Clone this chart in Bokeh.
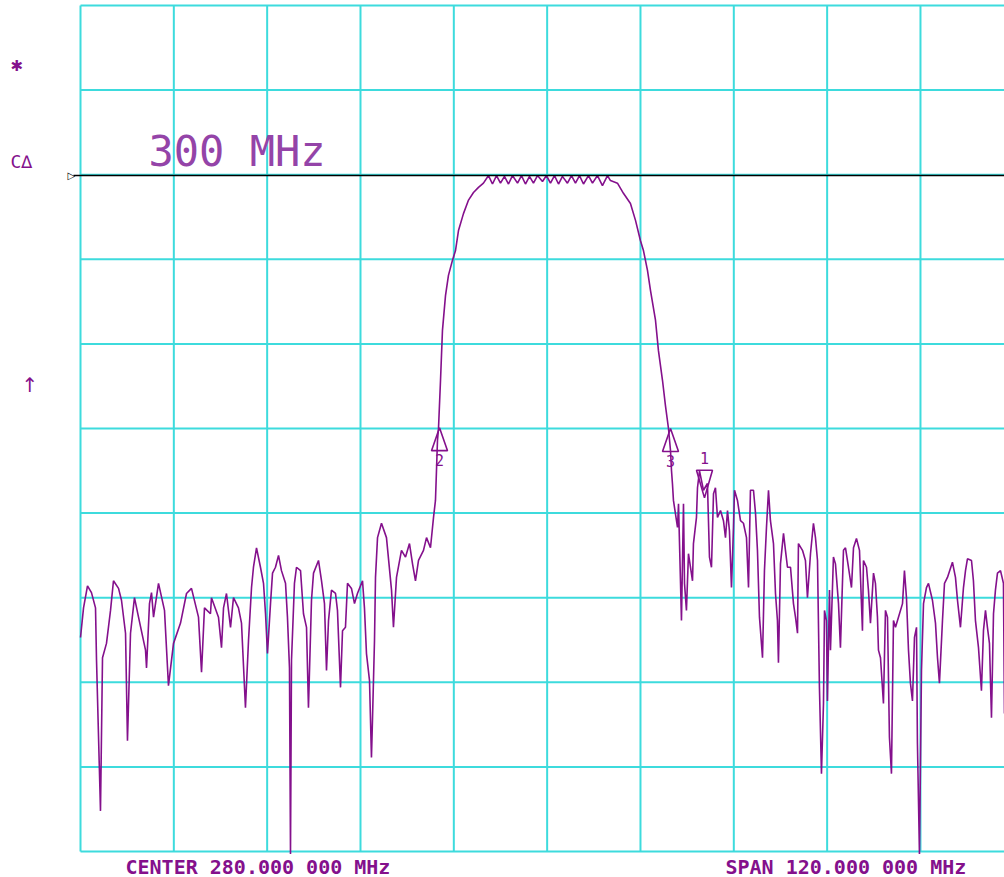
from bokeh.plotting import figure
from bokeh.models import Range1d, ColumnDataSource, Label
from bokeh.embed import file_html
from bokeh.resources import INLINE
from bokeh.core.properties import value

# ---------------- data ----------------
center_mhz = 280.0
span_mhz = 120.0
ref_level_db = -20.1
top_db = 0.0
bottom_db = -100.0
db_per_div = 10.0
marker_note = "300 MHz"

trace_freq_mhz = [
    220.00, 220.39, 220.90, 221.41, 221.93, 222.06, 222.57, 222.83, 223.34, 223.86,
    224.24, 224.89, 225.27, 225.79, 226.04, 226.43, 226.94, 227.46, 228.36, 228.49,
    228.87, 229.13, 229.39, 230.03, 230.80, 231.31, 231.96, 232.86, 233.63, 234.27,
    235.17, 235.56, 235.94, 236.71, 236.84, 237.74, 238.13, 238.39, 238.77, 239.29,
    239.67, 240.31, 240.70,
    241.21, 241.60, 241.99, 242.24, 242.63, 243.14, 243.53, 243.79, 244.04, 244.43,
    244.69, 245.07, 245.46, 245.84, 246.36, 246.61, 246.87, 247.00, 247.13, 247.51,
    247.77, 248.29, 248.67, 249.06, 249.31, 249.70, 249.96, 250.60, 250.99, 251.37,
    251.63, 251.89, 252.27, 252.79, 253.04, 253.43, 253.69, 254.07, 254.33, 254.84,
    255.23, 255.61, 256.26, 256.51, 256.77, 257.16, 257.41, 257.54, 257.80, 257.93,
    258.19, 258.70, 259.34, 259.99, 260.24, 260.63, 261.27, 261.79, 262.30, 262.69,
    263.07, 263.46, 264.10, 264.49, 265.00, 265.39, 265.64,
    265.77, 265.90, 266.03, 266.29, 266.54, 266.93, 267.31, 267.83, 268.21, 268.60,
    269.24, 269.89, 270.53, 271.17, 271.81,
    272.46, 272.97, 273.49, 274.00, 274.51, 275.03, 275.54, 276.19, 276.70, 277.21,
    277.73, 278.24, 278.76, 279.40, 279.91, 280.43, 280.94, 281.46, 281.97, 282.61,
    283.13, 283.64, 284.16, 284.67, 285.31, 285.83, 286.47, 287.11, 287.76,
    288.14, 289.04, 289.81, 290.71, 291.36, 292.00, 292.39, 292.90, 293.29, 293.93,
    294.31, 294.83, 295.21, 295.60, 295.86, 295.99,
    296.11, 296.24, 296.76, 296.89, 297.27, 297.53, 297.66, 297.91, 298.17, 298.69,
    298.81, 299.20, 299.33, 299.59, 300.10, 300.61, 300.87, 301.13, 301.39, 301.64,
    301.90, 302.29, 302.67, 302.93, 303.19, 303.44, 303.70, 303.96, 304.09, 304.47,
    304.86, 305.24, 305.63, 305.89, 306.14, 306.53, 306.79, 307.04, 307.30, 307.69,
    307.94, 308.20, 308.46, 308.71, 309.10, 309.36, 309.61, 309.74, 310.00, 310.39,
    310.64, 310.90, 311.29, 311.67, 311.93, 312.19, 312.31, 312.83, 313.21, 313.47,
    313.86, 314.24, 314.50, 314.76, 315.01, 315.27, 315.53, 315.66, 315.91, 316.04,
    316.30, 316.43, 316.81,
    317.07, 317.46, 317.71, 318.10, 318.36, 318.74, 319.13, 319.39, 319.77, 320.16,
    320.54, 320.67, 321.06, 321.31, 321.57, 321.96, 322.21, 322.47, 322.60, 322.86,
    323.24, 323.50, 323.76, 324.01, 324.27, 324.53, 324.79, 325.17, 325.69, 325.94,
    326.20, 326.46, 326.71, 326.97, 327.23, 327.49, 327.61, 327.87, 328.13, 328.39,
    328.77, 329.03, 329.54, 329.93, 330.19, 330.44, 330.83, 331.09, 331.47, 332.11,
    332.50, 332.76, 333.14, 333.53, 333.79, 334.04, 334.56, 334.81, 335.07, 335.46,
    335.84, 336.10, 336.36, 336.61, 336.87, 337.13, 337.39, 337.64, 337.90, 338.29,
    338.67, 338.80, 339.31, 340.00,
]

trace_level_db = [
    -74.7, -71.2, -68.6, -69.4, -71.2, -77.4, -95.2, -77.1, -75.4, -71.5,
    -68.0, -68.9, -70.3, -74.2, -86.9, -74.2, -70.0, -72.3, -76.2, -78.3,
    -70.7, -69.4, -72.3, -68.3, -71.5, -80.4, -75.4, -73.0, -69.5, -68.9,
    -72.3, -78.8, -71.2, -71.9, -70.0, -72.3, -75.9, -71.2, -69.5, -73.5,
    -70.0, -71.2, -73.0,
    -83.0, -75.1, -68.8, -66.4, -64.1, -66.4, -68.3, -71.9, -76.6, -70.7,
    -67.1, -66.4, -65.0, -66.8, -68.3, -72.3, -78.3, -100.3, -77.4, -68.3,
    -66.4, -66.8, -71.9, -73.5, -83.0, -70.3, -67.1, -65.6, -68.0, -70.7,
    -78.6, -72.7, -69.1, -69.5, -71.5, -80.6, -73.9, -73.5, -68.3, -68.9,
    -70.7, -69.5, -68.0, -71.2, -76.6, -79.8, -88.9, -84.5, -75.1, -67.6,
    -62.9, -61.2, -62.9, -69.1, -73.5, -67.6, -64.4, -65.2, -63.6, -66.0,
    -68.0, -65.6, -64.4, -62.9, -64.1, -60.5, -58.5,
    -55.0, -51.4, -50.0, -44.3, -38.4, -34.3, -31.9, -30.1, -29.0, -26.6,
    -24.6, -23.0, -22.1, -21.5, -21.0,
    -20.1, -21.1, -20.1, -21.0, -20.2, -21.1, -20.1, -21.0, -20.1, -21.1,
    -20.2, -21.0, -20.1, -20.8, -20.1, -21.0, -20.1, -21.1, -20.2, -21.0,
    -20.1, -21.0, -20.1, -21.1, -20.1, -21.0, -20.1, -21.3, -20.1,
    -20.7, -21.0, -22.2, -23.4, -25.4, -27.8, -29.0, -31.3, -33.7, -37.2,
    -40.8, -44.3, -47.3, -50.0, -52.6, -55.0,
    -56.5, -58.5, -61.7, -58.9, -72.7, -58.9, -68.3, -71.5, -64.8, -68.0,
    -63.6, -60.5, -57.0, -55.0, -57.3, -56.5, -65.2, -66.4, -57.7, -57.0,
    -60.5, -59.7, -60.9, -62.9, -59.7, -62.1, -68.8, -61.7, -57.3, -58.5,
    -60.9, -61.2, -62.9, -68.8, -57.3, -57.3, -60.0, -64.4, -72.3, -77.1,
    -66.8, -61.7, -57.3, -60.9, -63.6, -69.5, -72.7, -77.7, -66.0, -62.4,
    -64.4, -66.4, -66.4, -70.7, -72.3, -74.2, -63.6, -64.4, -65.6, -70.0,
    -64.8, -61.2, -62.9, -65.6, -80.6, -90.8, -82.5, -71.5, -72.7, -82.2,
    -69.1, -76.2, -65.2,
    -66.0, -70.7, -75.9, -64.4, -64.1, -66.4, -68.8, -64.1, -63.0, -64.4,
    -73.9, -65.6, -66.4, -69.1, -73.0, -67.1, -68.3, -72.3, -76.2, -77.1,
    -82.5, -71.5, -72.3, -86.5, -90.8, -72.7, -73.5, -72.3, -70.7, -66.8,
    -70.0, -76.2, -80.1, -82.2, -74.7, -73.5, -87.2, -100.3, -78.6, -70.7,
    -68.8, -68.3, -70.3, -73.0, -77.1, -80.1, -72.7, -68.3, -67.6, -65.8,
    -67.6, -70.3, -73.5, -68.8, -66.8, -65.4, -65.6, -68.0, -72.7, -75.9,
    -81.0, -73.9, -71.5, -73.5, -75.4, -84.2, -71.9, -69.1, -67.1, -66.8,
    -68.3, -83.7, -72.7, -70.3,
]

# markers: id, frequency, level at the marker point, pointing direction
marker_ids = ["1", "2", "3"]
marker_freq_mhz = [300.23, 266.16, 295.86]
marker_level_db = [-58.2, -49.9, -50.0]
marker_dir = ["down", "up", "up"]

# left-margin annunciators
annunciator_text = ["✱", "C∆", "↑"]
annunciator_level_db = [-7.2, -18.4, -44.9]

# ---------------- layout / styling ----------------
PURPLE = "#84108c"
LIGHT_PURPLE = "#9444a8"
CYAN = "#3ddbdd"

W, H = 1004, 877
LEFT_PX, TOP_PX, BOTTOM_PX = 80, 5, 26
DIV_PX_X = 93.33
DIV_PX_Y = 84.6

f_start = center_mhz - span_mhz / 2
div_mhz = span_mhz / 10
mhz_per_px = div_mhz / DIV_PX_X
db_per_px = db_per_div / DIV_PX_Y

x0 = f_start - LEFT_PX * mhz_per_px
x1 = f_start + (W - LEFT_PX) * mhz_per_px
y0 = bottom_db - BOTTOM_PX * db_per_px
y1 = top_db + TOP_PX * db_per_px

p = figure(
    width=W, height=H,
    x_range=Range1d(x0, x1), y_range=Range1d(y0, y1),
    x_axis_location=None, y_axis_location=None,
    output_backend="svg", toolbar_location=None,
    min_border=0,
)
p.background_fill_color = "white"
p.border_fill_color = "white"
p.outline_line_color = None
p.grid.visible = False

# graticule (10 x 10 divisions)
gx = [f_start + i * div_mhz for i in range(11)]
gy = [bottom_db + j * db_per_div for j in range(11)]
p.segment(x0=gx, y0=[bottom_db] * 11, x1=gx, y1=[top_db] * 11,
          line_color=CYAN, line_width=2)
p.segment(x0=[f_start] * 11, y0=gy, x1=[f_start + span_mhz] * 11, y1=gy,
          line_color=CYAN, line_width=2)

# trace
p.line(trace_freq_mhz, trace_level_db, line_color=PURPLE, line_width=1.6)

# reference line with its small pointer left of the graticule
p.segment(x0=[f_start - 7 * mhz_per_px], y0=[ref_level_db],
          x1=[f_start + span_mhz], y1=[ref_level_db], line_color="black", line_width=1.6)
p.add_layout(Label(x=f_start - 13 * mhz_per_px, y=ref_level_db, text="▷", text_color="black",
                   text_font="DejaVu Sans", text_font_size="10px",
                   text_baseline="middle", text_align="left"))

# marker symbols
tri_half_w = 8 * mhz_per_px
tri_h = 23 * db_per_px
xs, ys = [], []
for f, lvl, d in zip(marker_freq_mhz, marker_level_db, marker_dir):
    xs.append([f - tri_half_w, f, f + tri_half_w])
    if d == "up":
        ys.append([lvl - tri_h, lvl, lvl - tri_h])
    else:
        ys.append([lvl + tri_h * 1.2, lvl, lvl + tri_h * 1.2])
p.patches(xs, ys, fill_color=None, line_color=PURPLE, line_width=1.6)

lab_off = [-40 if d == "down" else 32 for d in marker_dir]
msrc = ColumnDataSource(dict(x=marker_freq_mhz, y=marker_level_db, t=marker_ids, off=lab_off))
p.text(x="x", y="y", text="t", y_offset="off", source=msrc,
       text_font=value("DejaVu Sans Mono"), text_font_size="15px",
       text_color=PURPLE, text_align="center", text_baseline="middle")

# annotation text inside the graticule (vertically centred on its cap height)
p.add_layout(Label(x=f_start + 68 * mhz_per_px, y=top_db - 146 * db_per_px, text=marker_note,
                   text_color=LIGHT_PURPLE, text_font="DejaVu Sans Mono", text_font_size="42px",
                   text_baseline="middle", text_align="left"))

# left-margin annunciators
ann_x_px = [10, 10, 21]
ann_size = ["15px", "18px", "20px"]
ann_font = ["DejaVu Sans", "DejaVu Sans Mono", "DejaVu Sans"]
for t, lvl, xp, sz, fn in zip(annunciator_text, annunciator_level_db, ann_x_px, ann_size, ann_font):
    p.add_layout(Label(x=f_start - (LEFT_PX - xp) * mhz_per_px, y=lvl, text=t,
                       text_color=PURPLE, text_font=fn, text_font_size=sz,
                       text_baseline="middle", text_align="left"))


def fmt_mhz(v):
    s = f"{v:.6f}"
    return s[:-3] + " " + s[-3:] + " MHz"


status_y = bottom_db - 15 * db_per_px
p.add_layout(Label(x=f_start + 45 * mhz_per_px, y=status_y,
                   text="CENTER " + fmt_mhz(center_mhz),
                   text_color=PURPLE, text_font="DejaVu Sans Mono", text_font_size="20px",
                   text_font_style="bold", text_baseline="middle", text_align="left"))
p.add_layout(Label(x=f_start + 645 * mhz_per_px, y=status_y,
                   text="SPAN " + fmt_mhz(span_mhz),
                   text_color=PURPLE, text_font="DejaVu Sans Mono", text_font_size="20px",
                   text_font_style="bold", text_baseline="middle", text_align="left"))

open("out.html", "w").write(file_html(p, INLINE, title="Spectrum"))
